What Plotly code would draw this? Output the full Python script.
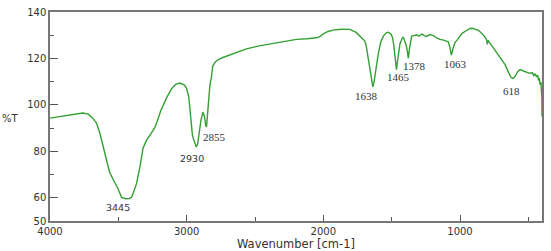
import plotly.graph_objects as go

# Spectrum (wavenumber cm-1, %T)
wavenumber = [4000, 3900, 3800, 3760, 3720, 3690, 3660, 3637, 3600, 3564, 3530, 3505, 3476, 3445, 3420,
              3403, 3385, 3366, 3340, 3320, 3295, 3260, 3234, 3212, 3190, 3170, 3147, 3110, 3080, 3051,
              3030, 3015, 3000, 2985, 2975, 2965, 2958, 2950, 2940, 2930, 2920, 2910, 2895, 2881, 2870,
              2860, 2855, 2850, 2840, 2830, 2819, 2809, 2790, 2773, 2740, 2685, 2620, 2563, 2470, 2370,
              2280, 2196, 2120, 2050, 2020, 2003, 1970, 1930, 1870, 1806, 1760, 1733, 1710, 1696, 1685,
              1674, 1660, 1647, 1638, 1630, 1620, 1598, 1580, 1562, 1540, 1525, 1505, 1493, 1484, 1476,
              1470, 1465, 1458, 1450, 1440, 1425, 1415, 1405, 1395, 1385, 1378, 1370, 1362, 1354, 1340,
              1317, 1300, 1280, 1260, 1244, 1220, 1195, 1170, 1147, 1120, 1100, 1086, 1075, 1063, 1050,
              1037, 1020, 1000, 985, 963, 945, 927, 910, 890, 870, 855, 841, 820, 805, 800, 795, 760,
              731, 700, 670, 645, 625, 610, 595, 575, 560, 540, 512, 490, 470, 460, 450, 440, 432, 425,
              420, 413, 408, 404, 401, 400]
transmittance = [94.3, 95.2, 96.2, 96.5, 96.0, 94.5, 92.2, 88.2, 79.5, 71.0, 67.0, 64.2, 60.2, 59.6, 59.7,
                 60.2, 63.0, 66.3, 74.0, 81.2, 84.6, 87.5, 90.1, 93.5, 97.5, 100.0, 103.0, 107.0, 108.8, 109.4,
                 109.0, 108.5, 107.0, 103.5, 97.5, 91.0, 87.0, 85.3, 83.5, 81.9, 83.0, 87.3, 93.5, 96.9, 95.0,
                 91.0, 90.5, 94.0, 100.3, 108.4, 111.8, 116.7, 118.5, 119.3, 120.3, 121.4, 122.7, 124.1, 125.4, 126.4,
                 127.3, 128.2, 128.5, 128.9, 129.6, 130.5, 131.5, 132.2, 132.6, 132.5, 131.2, 129.5, 128.5, 127.5, 125.0,
                 120.8, 115.5, 111.0, 107.8, 109.5, 114.0, 122.0, 127.0, 129.5, 131.0, 131.3, 130.5, 128.8, 125.5, 122.0,
                 118.0, 115.2, 118.5, 122.5, 126.1, 128.5, 129.3, 127.5, 126.0, 123.0, 120.0, 124.0, 128.0, 129.5, 129.8,
                 130.2, 129.6, 130.5, 129.8, 129.5, 130.3, 129.8, 128.8, 128.2, 127.9, 127.5, 127.2, 125.0, 121.4, 124.5,
                 126.8, 128.0, 129.5, 130.8, 131.6, 132.4, 132.9, 133.0, 132.7, 132.2, 131.6, 130.9, 129.5, 128.0, 126.0, 127.8, 125.0,
                 122.7, 120.0, 117.3, 114.0, 111.7, 111.4, 112.5, 114.5, 115.2, 114.7, 113.9, 113.6, 113.8, 112.6, 113.4, 112.0, 112.8, 110.5,
                 111.5, 108.5, 109.8, 105.0, 103.0, 95.0]

# Peak labels
label_text = ["3445", "2930", "2855", "1638", "1465", "1378", "1063", "618"]
label_x = [3500, 2958, 2795, 1684, 1451, 1336, 1035, 621]
label_y = [56.0, 76.9, 86.2, 104.0, 112.1, 116.6, 117.6, 106.0]
label_font = ["DejaVu Sans", "DejaVu Sans", "Liberation Serif", "Liberation Serif",
              "Liberation Serif", "Liberation Serif", "Liberation Serif", "Liberation Serif"]

x_ticks = [4000, 3000, 2000, 1000, 400]
x_minor = [3500, 2500, 1500, 500]
y_ticks = [50, 60, 80, 100, 120, 140]
y_minor = [70, 90, 110, 130]

fig = go.Figure()
fig.add_trace(go.Scatter(x=wavenumber, y=transmittance, mode="lines",
                         line=dict(color="#33a033", width=1.4), showlegend=False))

for t, x, y, f in zip(label_text, label_x, label_y, label_font):
    fig.add_annotation(x=x, y=y, text=t, showarrow=False, xanchor="center", yanchor="middle",
                       font=dict(family=f, size=11 if "Serif" in f else 9.5, color="#333333"))

fig.add_annotation(xref="paper", yref="y", x=-0.08, y=94.3, text="%T", showarrow=False,
                   xanchor="center", yanchor="middle",
                   font=dict(family="DejaVu Sans", size=10, color="#333333"))

axis_font = dict(family="DejaVu Sans", size=10, color="#333333")
fig.update_layout(
    width=551, height=251,
    margin=dict(l=50, r=9, t=6, b=27),
    paper_bgcolor="white", plot_bgcolor="white",
    font=axis_font,
    xaxis=dict(range=[4000, 400], tickvals=x_ticks, ticktext=[str(v) for v in x_ticks],
               ticks="inside", ticklen=6, tickcolor="#555555", showgrid=False, zeroline=False,
               showline=True, linecolor="#777777", linewidth=1.5, mirror=True,
               minor=dict(tickvals=x_minor, ticks="inside", ticklen=4, tickcolor="#555555"),
               title=dict(text="Wavenumber [cm-1]", standoff=0,
                          font=dict(family="DejaVu Sans", size=11.5, color="#333333")),
               tickfont=axis_font),
    yaxis=dict(range=[50, 140], tickvals=y_ticks, ticktext=[str(v) for v in y_ticks],
               ticks="inside", ticklen=8, tickcolor="#555555", showgrid=False, zeroline=False,
               showline=True, linecolor="#777777", linewidth=1.5, mirror=True,
               minor=dict(tickvals=y_minor, ticks="inside", ticklen=4, tickcolor="#555555"),
               tickfont=axis_font),
)

fig.write_html("out.html")
